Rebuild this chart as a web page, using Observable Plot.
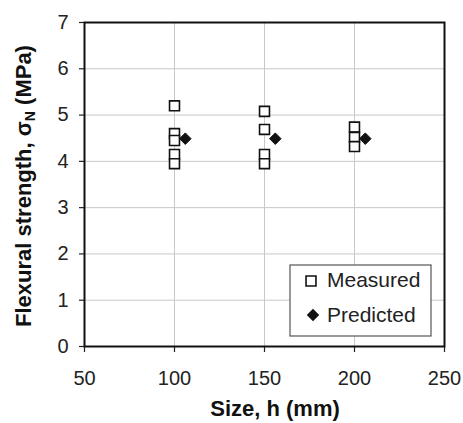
<!DOCTYPE html>
<html>
<head>
<meta charset="utf-8">
<script src="https://cdn.jsdelivr.net/npm/d3@7"></script>
<script src="https://cdn.jsdelivr.net/npm/@observablehq/plot@0.6"></script>
<style>
  html, body { margin: 0; padding: 0; background: #fff; }
  svg { font-family: "Liberation Sans", Arial, sans-serif; }
</style>
</head>
<body>
<div id="chart"></div>
<script>
// Measured specimens
const measuredSize = [100, 100, 100, 100, 100, 150, 150, 150, 150, 200, 200, 200];
const measuredStrength = [5.2, 4.6, 4.45, 4.15, 3.95, 5.08, 4.69, 4.15, 3.95, 4.74, 4.52, 4.32];
// Predicted (plotted slightly offset to the right of each size)
const predictedSize = [106, 156, 206];
const predictedStrength = [4.49, 4.49, 4.49];
const xTicks = [50, 100, 150, 200, 250];
const yTicks = [0, 1, 2, 3, 4, 5, 6, 7];

const measured = measuredSize.map((s, i) => ({size: s, strength: measuredStrength[i]}));
const predicted = predictedSize.map((s, i) => ({size: s, strength: predictedStrength[i]}));

const W = 463, H = 423;
const chart = Plot.plot({
  width: W,
  height: H,
  marginLeft: 84,
  marginRight: 19,
  marginTop: 22,
  marginBottom: 77,
  style: {fontSize: "20px", fontFamily: "'Liberation Sans', Arial, sans-serif", color: "#222", background: "#fff"},
  x: {domain: [50, 250], ticks: xTicks, label: null},
  y: {domain: [0, 7], ticks: yTicks, label: null},
  marks: [
    Plot.gridX(xTicks, {stroke: "#c8c8c8", strokeOpacity: 1, strokeWidth: 1}),
    Plot.gridY(yTicks, {stroke: "#c8c8c8", strokeOpacity: 1, strokeWidth: 1}),
    Plot.axisX({ticks: xTicks, tickSize: 6, tickPadding: 18, fontSize: 20, tickFormat: d => String(d), stroke: "#222", strokeWidth: 1.2, fill: "#222"}),
    Plot.axisY({ticks: yTicks, tickSize: 5, tickPadding: 11, fontSize: 20, tickFormat: d => String(d), stroke: "#222", strokeWidth: 1.2, fill: "#222"}),
    Plot.frame({stroke: "#111", strokeWidth: 2}),
    Plot.dot(measured, {x: "size", y: "strength", symbol: "square", r: 5.6, fill: "white", stroke: "#111", strokeWidth: 1.6}),
    Plot.dot(predicted, {x: "size", y: "strength", symbol: "diamond2", r: 5.2, fill: "#111", stroke: "#111", strokeWidth: 1})
  ]
});
document.getElementById("chart").appendChild(chart);

const svg = d3.select(chart);
// X axis title
svg.append("text")
  .attr("x", 275).attr("y", 416)
  .attr("text-anchor", "middle")
  .attr("font-size", 22).attr("font-weight", "bold").attr("fill", "#111")
  .text("Size, h (mm)");
// Y axis title with subscript
const yl = svg.append("text")
  .attr("transform", "translate(31,186) rotate(-90)")
  .attr("text-anchor", "middle")
  .attr("font-size", 22).attr("font-weight", "bold").attr("fill", "#111");
yl.append("tspan").text("Flexural strength, σ");
yl.append("tspan").attr("font-size", 14).attr("dy", 4).text("N");
yl.append("tspan").attr("dy", -4).text(" (MPa)");

// Legend
const lg = svg.append("g");
lg.append("rect").attr("x", 290).attr("y", 265).attr("width", 141).attr("height", 71)
  .attr("fill", "white").attr("stroke", "#555").attr("stroke-width", 1.2);
const sq = d3.symbol(d3.symbolSquare, 5.6 * 5.6 * Math.PI);
const dm = d3.symbol(d3.symbolDiamond2, 5.6 * 5.6 * Math.PI);
lg.append("path").attr("d", sq()).attr("transform", "translate(311,281)")
  .attr("fill", "white").attr("stroke", "#111").attr("stroke-width", 1.6);
lg.append("path").attr("d", dm()).attr("transform", "translate(313,315)")
  .attr("fill", "#111");
lg.append("text").attr("x", 327).attr("y", 287).attr("text-anchor", "start").attr("font-size", 21).attr("fill", "#222").text("Measured");
lg.append("text").attr("x", 327).attr("y", 322).attr("text-anchor", "start").attr("font-size", 21).attr("fill", "#222").text("Predicted");
</script>
</body>
</html>
